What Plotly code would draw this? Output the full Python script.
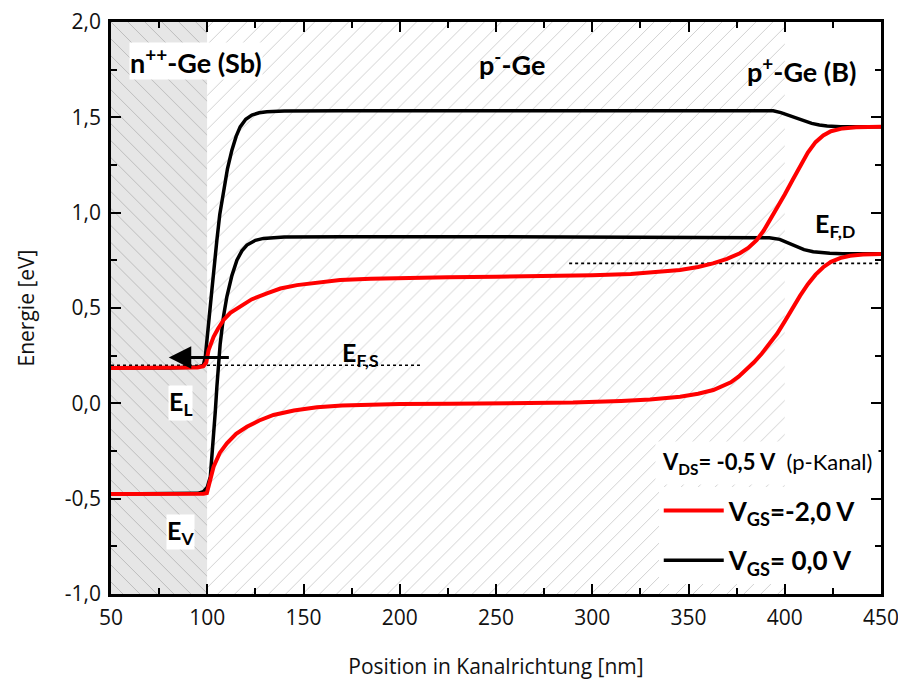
import plotly.graph_objects as go

# ---------------- data ----------------
# Black: V_GS = 0,0 V
x_el_0 = [50, 80, 95, 98, 99, 100, 101, 102.4, 103.5, 105, 106.5, 108.5, 110.5, 112.8, 115, 117.1, 120, 123.2,
          127, 131, 140, 169, 250, 350, 390, 394, 398, 402, 406, 410, 414, 418, 422, 429, 440, 450]
y_el_0 = [0.185, 0.185, 0.19, 0.2, 0.245, 0.33, 0.45, 0.594, 0.72, 0.856, 0.99, 1.118, 1.23, 1.328, 1.40, 1.45,
          1.49, 1.512, 1.524, 1.529, 1.533, 1.534, 1.535, 1.536, 1.536, 1.534, 1.525, 1.51, 1.495, 1.48, 1.468,
          1.46, 1.455, 1.451, 1.45, 1.45]
x_ev_0 = [50, 80, 95, 98, 100, 101.6, 102.5, 103.3, 104.2, 105, 106.7, 108.5, 110.2, 112.8, 115.4, 118, 120.6,
          125, 129.2, 140, 170, 250, 350, 388, 392, 397.4, 402, 406, 410, 414.8, 419, 423.4, 430, 450]
y_ev_0 = [-0.475, -0.475, -0.472, -0.463, -0.44, -0.385, -0.28, -0.175, -0.04, 0.087, 0.31, 0.46, 0.56, 0.67,
          0.751, 0.80, 0.83, 0.855, 0.865, 0.872, 0.874, 0.874, 0.873, 0.872, 0.868, 0.86, 0.84, 0.821, 0.806,
          0.795, 0.79, 0.787, 0.785, 0.785]

# Red: V_GS = -2,0 V
x_el_2 = [50, 80, 95, 98, 99.5, 100.7, 102, 103.3, 105.5, 108.5, 112, 117.1, 123, 131, 138, 146.6, 157, 169,
          185, 200, 225, 250, 275, 300, 320, 335, 345.6, 355, 362.7, 370, 376.7, 381, 385.4, 389, 392.3, 396,
          400, 404, 408, 412, 416, 420, 424, 430, 437, 450]
y_el_2 = [0.185, 0.185, 0.188, 0.195, 0.215, 0.28, 0.32, 0.349, 0.39, 0.437, 0.475, 0.507, 0.545, 0.577, 0.602,
          0.62, 0.635, 0.647, 0.653, 0.657, 0.661, 0.664, 0.667, 0.672, 0.678, 0.688, 0.699, 0.715, 0.734, 0.758,
          0.787, 0.815, 0.856, 0.905, 0.961, 1.025, 1.095, 1.17, 1.245, 1.315, 1.37, 1.405, 1.427, 1.442, 1.448,
          1.45]
x_ev_2 = [50, 80, 95, 98, 99.8, 101.5, 103.3, 106.5, 110.2, 115, 120.6, 127, 134.4, 145, 157, 170, 183, 200,
          226, 260, 290, 315, 330, 345.6, 355, 362.9, 372, 376, 380, 384, 388, 392, 396, 400, 404, 408, 412,
          416, 420, 424, 428.7, 434, 440.6, 450]
y_ev_2 = [-0.476, -0.476, -0.475, -0.474, -0.47, -0.41, -0.332, -0.26, -0.21, -0.16, -0.123, -0.09, -0.061,
          -0.038, -0.021, -0.011, -0.006, -0.004, -0.002, 0.0, 0.004, 0.012, 0.02, 0.035, 0.05, 0.07, 0.11,
          0.14, 0.175, 0.215, 0.26, 0.31, 0.365, 0.43, 0.5, 0.565, 0.625, 0.675, 0.714, 0.742, 0.762, 0.774,
          0.78, 0.783]

# Fermi levels
x_efs = [50, 211]
y_efs = [0.2, 0.2]
x_efd = [288, 450]
y_efd = [0.734, 0.734]

# Doping regions (nm)
region_n_x = [50, 100]
region_p_x = [100, 400]
y_range = [-1.0, 2.0]

# Arrow (E_F,S shift)
arrow_from = (112, 0.24)
arrow_to = (80, 0.24)

x_tick_vals = [50, 100, 150, 200, 250, 300, 350, 400, 450]
x_tick_text = ["50", "100", "150", "200", "250", "300", "350", "400", "450"]
y_tick_vals = [-1.0, -0.5, 0.0, 0.5, 1.0, 1.5, 2.0]
y_tick_text = ["-1,0", "-0,5", "0,0", "0,5", "1,0", "1,5", "2,0"]

# ---------------- figure ----------------
fig = go.Figure()


def rect(xs):
    return [xs[0], xs[1], xs[1], xs[0], xs[0]], [y_range[0], y_range[0], y_range[1], y_range[1], y_range[0]]


rx, ry = rect(region_n_x)
fig.add_trace(go.Scatter(x=rx, y=ry, mode="lines", line=dict(width=0), fill="toself",
                         fillcolor="#e6e6e6",
                         fillpattern=dict(shape="\\", bgcolor="#e6e6e6", fgcolor="#b4b4b4",
                                          size=12, solidity=0.07, fillmode="replace"),
                         hoverinfo="skip", showlegend=False))
rx, ry = rect(region_p_x)
fig.add_trace(go.Scatter(x=rx, y=ry, mode="lines", line=dict(width=0), fill="toself",
                         fillcolor="white",
                         fillpattern=dict(shape="/", bgcolor="white", fgcolor="#c8c8c8",
                                          size=12, solidity=0.07, fillmode="replace"),
                         hoverinfo="skip", showlegend=False))

# Fermi level dotted lines
for xs, ys in [(x_efs, y_efs), (x_efd, y_efd)]:
    fig.add_trace(go.Scatter(x=xs, y=ys, mode="lines", line=dict(color="black", width=1.6, dash="dot"),
                             hoverinfo="skip", showlegend=False))

# Black curves
fig.add_trace(go.Scatter(x=x_el_0, y=y_el_0, mode="lines", line=dict(color="black", width=3.5),
                         name="<b>V<sub>GS</sub>= 0,0 V</b>", legendgroup="black", legendrank=2,
                         showlegend=True))
fig.add_trace(go.Scatter(x=x_ev_0, y=y_ev_0, mode="lines", line=dict(color="black", width=3.5),
                         legendgroup="black", showlegend=False))
# Red curves
fig.add_trace(go.Scatter(x=x_el_2, y=y_el_2, mode="lines", line=dict(color="#ff0000", width=4),
                         name="<b>V<sub>GS</sub>=-2,0 V</b>", legendgroup="red", legendrank=1,
                         showlegend=True))
fig.add_trace(go.Scatter(x=x_ev_2, y=y_ev_2, mode="lines", line=dict(color="#ff0000", width=4),
                         legendgroup="red", showlegend=False))

lab_font = dict(family="Lato", size=27, color="black", weight="bold")
sm_font = dict(family="Lato", size=25, color="black", weight="bold")

annotations = [
    dict(x=94.3, y=1.795, text="n<sup>++</sup>-Ge (Sb)", font=lab_font, bgcolor="white", borderpad=0),
    dict(x=258.4, y=1.785, text="p<sup>-</sup>-Ge", font=lab_font),
    dict(x=408.9, y=1.748, text="p<sup>+</sup>-Ge (B)", font=lab_font),
    dict(x=179.5, y=0.26, text="E<sub>F,S</sub>", font=sm_font),
    dict(x=86, y=0.0, text="E<sub>L</sub>", font=sm_font, bgcolor="white", borderpad=0),
    dict(x=86, y=-0.675, text="E<sub>V</sub>", font=sm_font, bgcolor="white", borderpad=0),
    dict(x=426, y=0.935, text="E<sub>F,D</sub>", font=sm_font),
]
for a in annotations:
    fig.add_annotation(xref="x", yref="y", showarrow=False, **a)

# legend heading
fig.add_annotation(xref="paper", yref="paper", x=0.9974, y=0.229, xanchor="right", yanchor="middle",
                   text="<b>V<sub>DS</sub>= -0,5 V</b>  (p-Kanal)", showarrow=False,
                   font=dict(family="Lato", size=22, color="black"), bgcolor="white", borderpad=6)

fig.add_annotation(x=arrow_to[0], y=arrow_to[1], ax=arrow_from[0], ay=arrow_from[1],
                   xref="x", yref="y", axref="x", ayref="y", text="", showarrow=True,
                   arrowhead=2, arrowsize=1.5, arrowwidth=3, arrowcolor="black")

axis_common = dict(
    showline=True, linecolor="black", linewidth=2.5, mirror="allticks",
    ticks="inside", ticklen=10, tickwidth=2, tickcolor="black",
    showgrid=False, zeroline=False, automargin=False, ticklabeloverflow="allow",
    tickfont=dict(family="Open Sans", size=21, color="#111"),
    ticklabelstandoff=3,
)

fig.update_xaxes(range=[50, 450], tickmode="array", tickvals=x_tick_vals, ticktext=x_tick_text,
                 minor=dict(ticks="inside", ticklen=6, tickwidth=2, dtick=25, tick0=50, tickcolor="black"),
                 title=dict(text="Position in Kanalrichtung [nm]",
                            font=dict(family="Open Sans", size=21, color="#111"), standoff=30),
                 **axis_common)
fig.update_yaxes(range=y_range, tickmode="array", tickvals=y_tick_vals, ticktext=y_tick_text,
                 minor=dict(ticks="inside", ticklen=6, tickwidth=2, dtick=0.25, tick0=0, tickcolor="black"),
                 title=dict(text="Energie [eV]",
                            font=dict(family="Open Sans", size=21, color="#111"), standoff=25),
                 **axis_common)

fig.update_layout(
    width=898, height=682,
    margin=dict(l=103, r=25, t=14, b=96),
    plot_bgcolor="white", paper_bgcolor="white",
    legend=dict(
        x=0.975, y=0.0173, xanchor="right", yanchor="bottom",
        bgcolor="white", borderwidth=0,
        font=dict(family="Lato", size=26, color="black"),
        tracegroupgap=13, itemwidth=60,
    ),
)

fig.write_html("out.html")
